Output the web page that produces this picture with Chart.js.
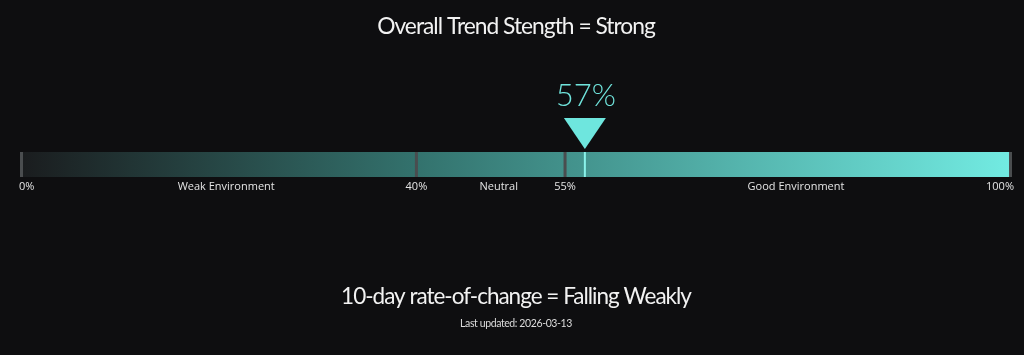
<!DOCTYPE html>
<html><head><meta charset="utf-8">
<script src="https://cdn.jsdelivr.net/npm/chart.js@4/dist/chart.umd.min.js"></script>
<style>
html,body{margin:0;padding:0;background:#0e0e10;}
#wrap{width:1024px;height:355px;position:relative;}
</style></head>
<body><div id="wrap"><canvas id="c" width="1024" height="355"></canvas></div>
<script>
const titleText = "Overall Trend Stength = Strong";
const footerText = "10-day rate-of-change = Falling Weakly";
const updatedText = "Last updated: 2026-03-13";
const currentValue = 57;
const boundaries = [0, 40, 55, 100];
const boundaryLabels = ["0%", "40%", "55%", "100%"];
const zoneNames = ["Weak Environment", "Neutral", "Good Environment"];
const rangeMin = 0, rangeMax = 100;

const extras = {
  id: 'extras',
  afterDraw(chart) {
    const ctx = chart.ctx;
    const xs = chart.scales.x;
    const area = chart.chartArea;
    const top = area.top, bot = area.bottom;
    ctx.save();
    // boundary separators
    boundaries.forEach((b, i) => {
      let px = xs.getPixelForValue(b);
      ctx.fillStyle = '#4a4d4f';
      let x0 = px - 1.5;
      if (i === 0) x0 = px; if (i === boundaries.length - 1) x0 = px - 2;
      ctx.fillRect(x0, top, 3, bot - top);
    });
    // current marker line
    const mx = xs.getPixelForValue(currentValue);
    ctx.fillStyle = '#8af2ea';
    ctx.fillRect(mx - 1, top, 2, bot - top);
    // triangle
    ctx.fillStyle = '#6ee6de';
    ctx.beginPath();
    ctx.moveTo(mx - 21, top - 34);
    ctx.lineTo(mx + 21, top - 34);
    ctx.lineTo(mx, top - 3);
    ctx.closePath();
    ctx.fill();
    // value text
    ctx.fillStyle = '#70e4dc';
    ctx.font = '300 31px Lato';
    ctx.textAlign = 'center';
    ctx.textBaseline = 'middle';
    ctx.fillText(currentValue + '%', mx + 1, top - 56);
    // boundary labels
    ctx.font = '11px "Open Sans"';
    ctx.fillStyle = '#e4e4e4';
    ctx.textBaseline = 'middle';
    const ly = bot + 10;
    boundaries.forEach((b, i) => {
      const px = xs.getPixelForValue(b);
      if (i === 0) { ctx.textAlign = 'left'; ctx.fillText(boundaryLabels[i], px - 1, ly); }
      else if (i === boundaries.length - 1) { ctx.textAlign = 'right'; ctx.fillText(boundaryLabels[i], px + 3, ly); }
      else { ctx.textAlign = 'center'; ctx.fillText(boundaryLabels[i], px, ly); }
    });
    zoneNames.forEach((n, i) => {
      const c = (xs.getPixelForValue(boundaries[i]) + xs.getPixelForValue(boundaries[i + 1])) / 2 + 8;
      ctx.textAlign = 'center';
      ctx.fillText(n, c, ly);
    });
    // titles
    ctx.fillStyle = '#f2f2f2';
    ctx.textAlign = 'center';
    ctx.letterSpacing = '-1px';
    ctx.font = '22.8px Lato';
    ctx.fillText(titleText, 516, 27);
    ctx.font = '22.5px Lato';
    ctx.fillText(footerText, 516, 297);
    ctx.font = '10.5px Lato';
    ctx.letterSpacing = '-0.4px';
    ctx.fillStyle = '#dcdcdc';
    ctx.fillText(updatedText, 516, 324);
    ctx.restore();
  }
};

new Chart(document.getElementById('c'), {
  type: 'bar',
  data: {
    labels: ['trend'],
    datasets: [{
      data: [[rangeMin, rangeMax]],
      borderWidth: 0,
      barPercentage: 1,
      categoryPercentage: 1,
      backgroundColor(ctx) {
        const ch = ctx.chart;
        if (!ch.chartArea) return '#3a7a74';
        const g = ch.ctx.createLinearGradient(ch.chartArea.left, 0, ch.chartArea.right, 0);
        g.addColorStop(0, '#1a1c1e');
        g.addColorStop(0.4, '#33726d');
        g.addColorStop(0.55, '#42918b');
        g.addColorStop(1, '#72ebe2');
        return g;
      }
    }]
  },
  options: {
    indexAxis: 'y',
    responsive: false,
    animation: false,
    layout: { padding: { left: 20, right: 13, top: 152, bottom: 178 } },
    scales: {
      x: { display: false, min: rangeMin, max: rangeMax },
      y: { display: false }
    },
    plugins: { legend: { display: false }, tooltip: { enabled: false }, title: { display: false } }
  },
  plugins: [extras]
});
</script></body></html>
